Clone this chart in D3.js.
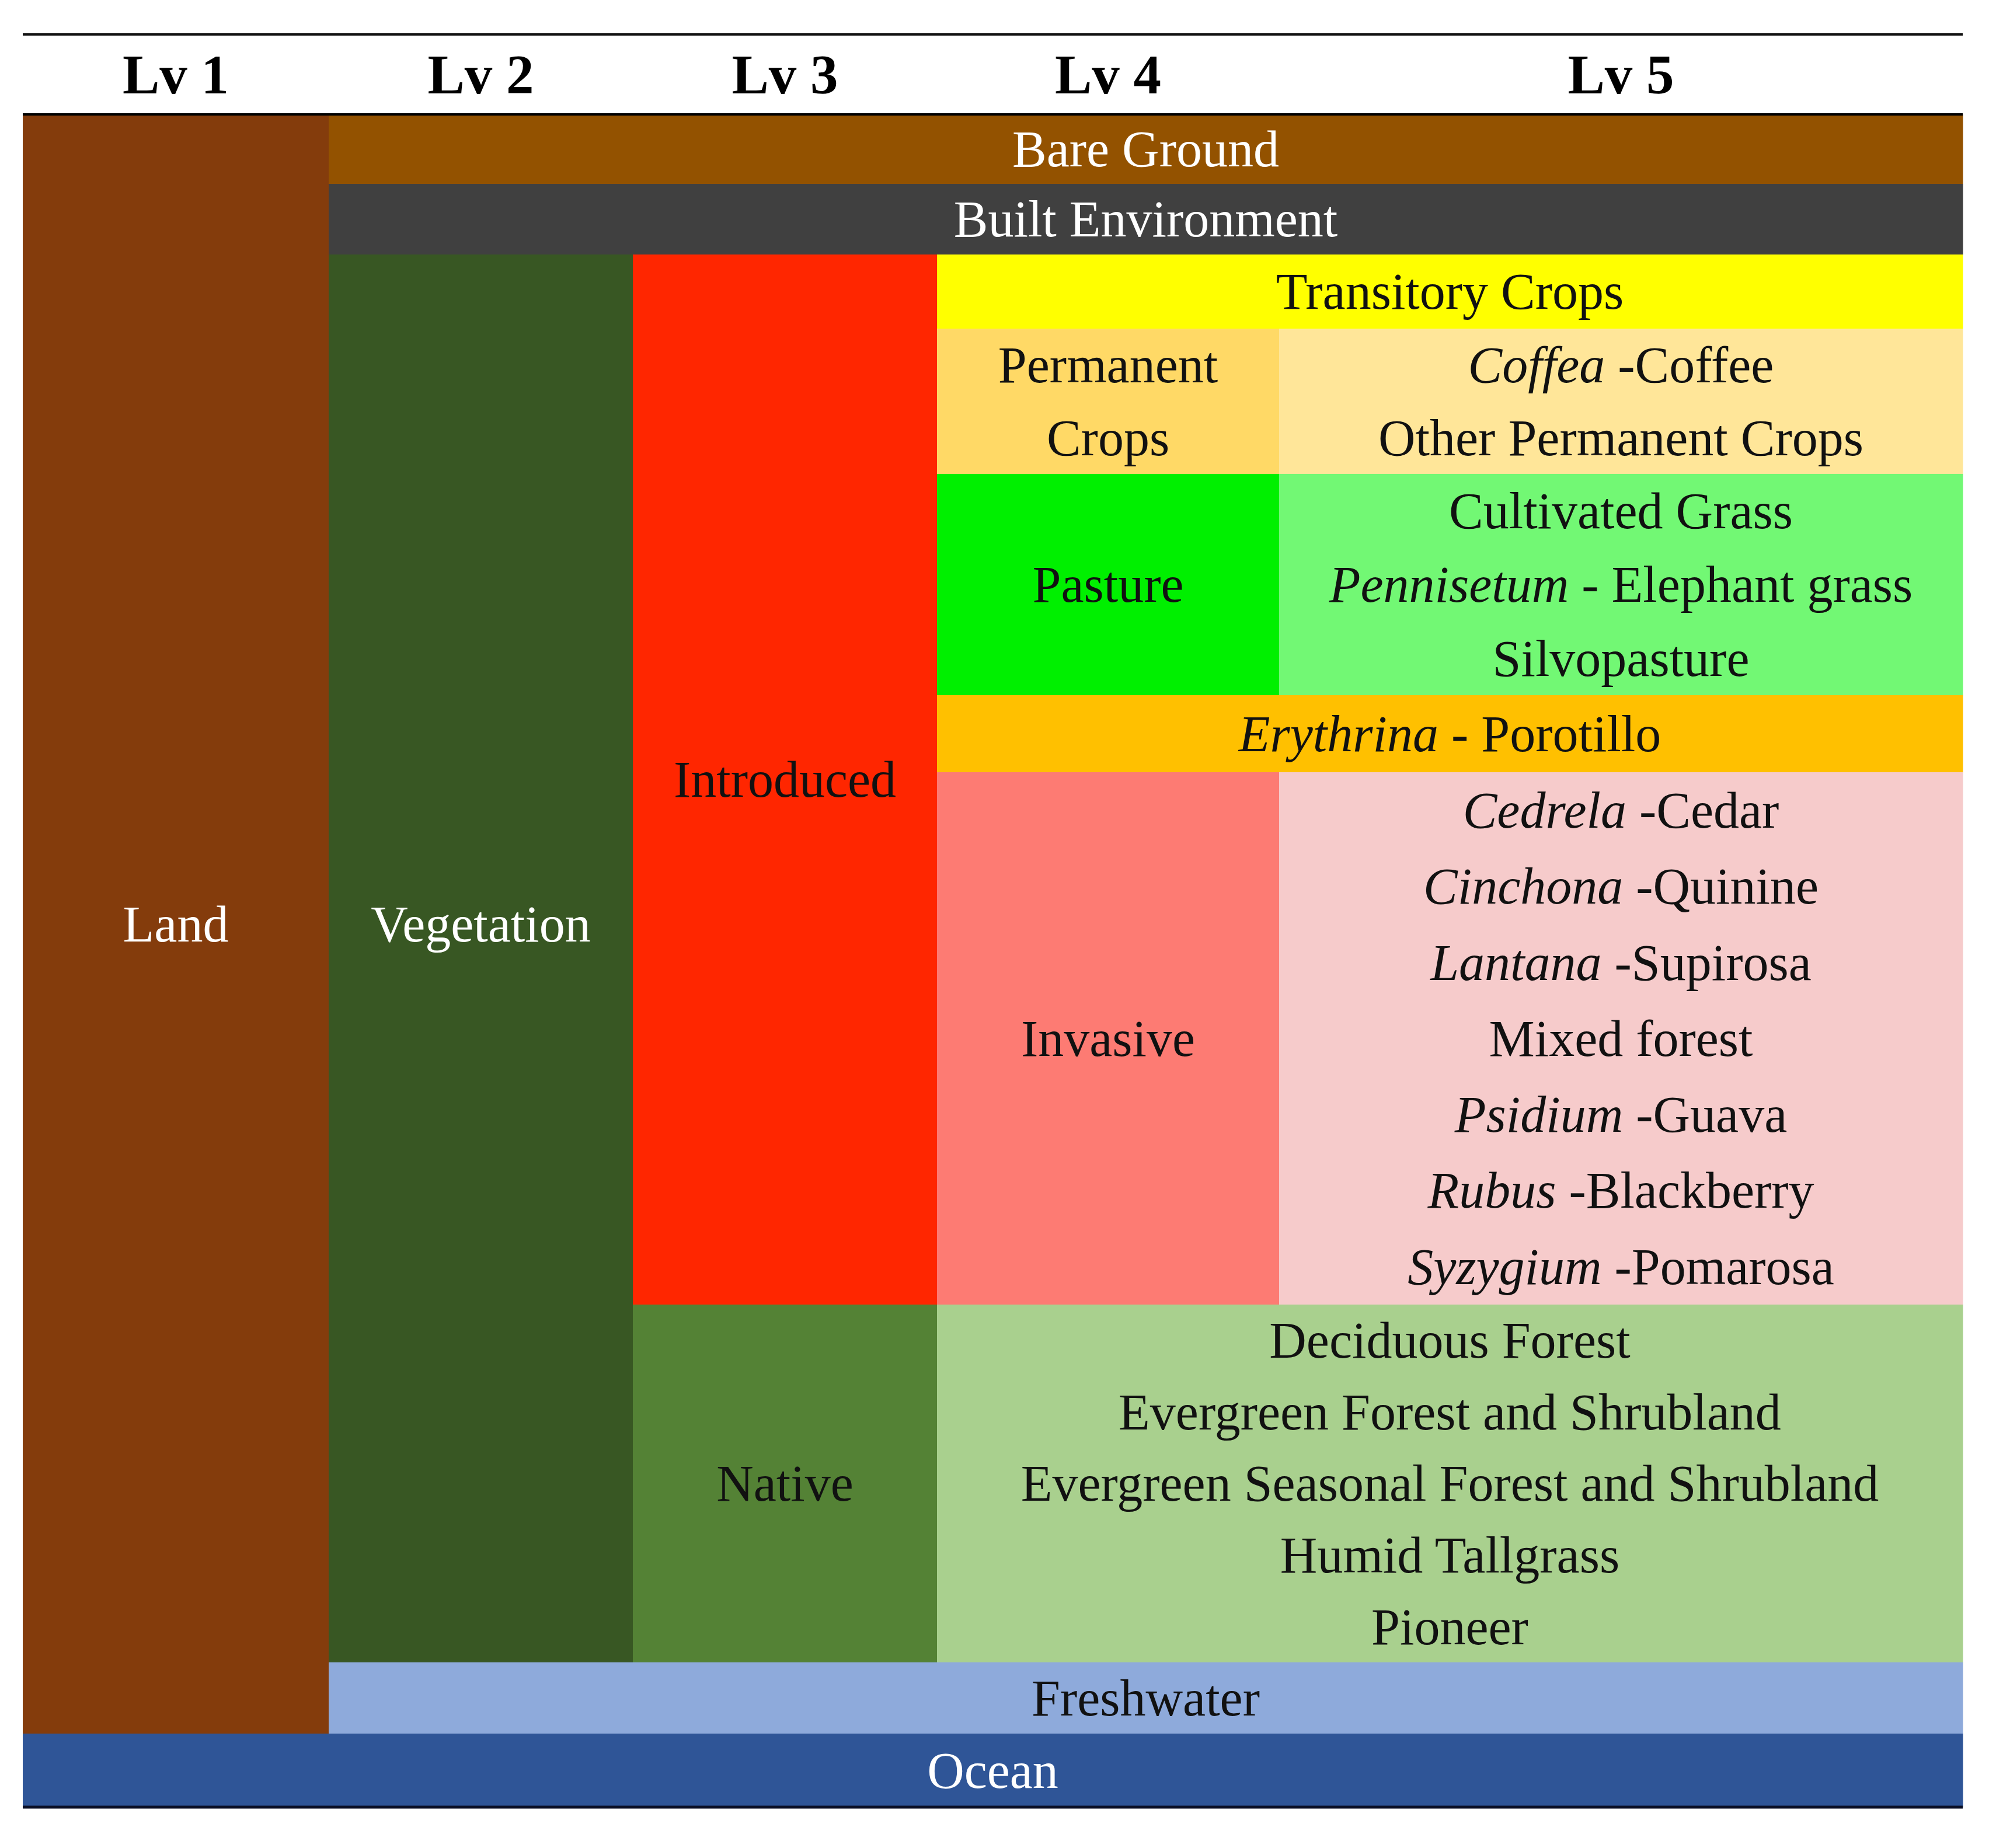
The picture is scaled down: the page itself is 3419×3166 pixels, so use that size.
<!DOCTYPE html>
<html>
<head>
<meta charset="utf-8">
<script src="https://cdn.jsdelivr.net/npm/d3@7"></script>
<style>
  body { margin: 0; background: #fff; }
</style>
</head>
<body>
<div class="chart-div"></div>
<script>
//--------------------------- Data

// column headers
var levels = ["Lv 1", "Lv 2", "Lv 3", "Lv 4", "Lv 5"];

// one entry per cell; text between underscores is italic, lines split by "|"
var cellLabels = [
    "Land",
    "Bare Ground",
    "Built Environment",
    "Vegetation",
    "Introduced",
    "Transitory Crops",
    "Permanent|Crops",
    "_Coffea_ -Coffee|Other Permanent Crops",
    "Pasture",
    "Cultivated Grass|_Pennisetum_  - Elephant grass|Silvopasture",
    "_Erythrina_  - Porotillo",
    "Invasive",
    "_Cedrela_ -Cedar|_Cinchona_ -Quinine|_Lantana_ -Supirosa|Mixed forest|_Psidium_ -Guava|_Rubus_ -Blackberry|_Syzygium_ -Pomarosa",
    "Native",
    "Deciduous Forest|Evergreen Forest and Shrubland|Evergreen Seasonal Forest and Shrubland|Humid Tallgrass|Pioneer",
    "Freshwater",
    "Ocean"
];

// first and last level column each cell covers (0 = Lv 1)
var cellCols = [
    [0, 0], [1, 4], [1, 4], [1, 1], [2, 2], [3, 4], [3, 3], [4, 4],
    [3, 3], [4, 4], [3, 4], [3, 3], [4, 4], [2, 2], [3, 4], [1, 4], [0, 4]
];

// first row and number of rows each cell covers
var cellRows = [
    [0, 22], [0, 1], [1, 1], [2, 19], [2, 14], [2, 1], [3, 2], [3, 2],
    [5, 3], [5, 3], [8, 1], [9, 7], [9, 7], [16, 5], [16, 5], [21, 1], [22, 1]
];

var cellColors = [
    "#843c0c", "#935200", "#404040", "#385723", "#ff2600", "#ffff00", "#ffd966", "#ffe699",
    "#00f000", "#72f874", "#ffc000", "#fd7b73", "#f6cbcb", "#548235", "#a9d08e", "#8eaadb", "#2f5597"
];

// Vegetation label sits level with the Land label (row 11)
var labelCenterRow = { "Vegetation": 11 };

// row indices where a block of rows starts (used by the piecewise row scale)
var rowBreaks = [0, 1, 2, 3, 5, 8, 9, 16, 21, 22, 23];

//--------------------------- SVG definition

var width = 3419;
var height = 3166;

var svg = d3.select("div.chart-div")
    .append("svg")
    .attr("width", width)
    .attr("height", height);

var cells = svg.append("g");
var labels = svg.append("g");
var header = svg.append("g");
var rules = svg.append("g");

//--------------------------- Scales

var x = d3.scaleLinear()
    .domain([0, 1, 2, 3, 4, 5])
    .range([39, 563, 1084, 1605, 2191, 3362]);

var y = d3.scaleLinear()
    .domain(rowBreaks)
    .range([196, 315, 436, 563, 812, 1191, 1323, 2235, 2848, 2970, 3096]);

var nRows = rowBreaks[rowBreaks.length - 1];

var bodyFont = "Liberation Serif, Times New Roman, serif";
var bodySize = 88;

var data = cellLabels.map(function (l, i) {
    return {
        lines: l.split("|"),
        c0: cellCols[i][0],
        c1: cellCols[i][1] + 1,
        r0: cellRows[i][0],
        r1: cellRows[i][0] + cellRows[i][1],
        fill: cellColors[i],
        name: l.split("|")[0]
    };
});

//--------------------------- Cells

cells.selectAll("rect").data(data).enter()
    .append("rect")
    .attr("x", function (d) { return x(d.c0); })
    .attr("y", function (d) { return y(d.r0); })
    .attr("width", function (d) { return x(d.c1) - x(d.c0) + 0.5; })
    .attr("height", function (d) { return y(d.r1) - y(d.r0) + 0.5; })
    .attr("fill", function (d) { return d.fill; });

//--------------------------- Labels

data.forEach(function (d) {
    var n = d.lines.length;
    var top = y(d.r0), bottom = y(d.r1);
    var textColor = d3.lab(d.fill).l < 46 ? "#fff" : "#111";
    d.lines.forEach(function (line, k) {
        var ty;
        if (labelCenterRow[d.name] !== undefined) ty = y(labelCenterRow[d.name]);
        else ty = top + (k + 0.5) * (bottom - top) / n;

        var t = labels.append("text")
            .attr("x", (x(d.c0) + x(d.c1)) / 2)
            .attr("y", ty)
            .attr("dy", "0.34em")
            .attr("text-anchor", "middle")
            .attr("font-family", bodyFont)
            .attr("font-size", bodySize)
            .style("fill", textColor);

        line.split("_").forEach(function (part, j) {
            if (part === "") return;
            t.append("tspan")
                .attr("font-style", j % 2 == 1 ? "italic" : "normal")
                .text(part);
        });
    });
});

//--------------------------- Header

header.selectAll("text").data(levels).enter()
    .append("text")
    .attr("x", function (d, i) { return (x(i) + x(i + 1)) / 2; })
    .attr("y", 128)
    .attr("dy", "0.34em")
    .attr("text-anchor", "middle")
    .attr("font-family", "Liberation Serif, Times New Roman, serif")
    .attr("font-weight", "bold")
    .attr("font-size", 95)
    .style("fill", "#000")
    .text(function (d) { return d; });

//--------------------------- Rules

rules.append("line")
    .attr("x1", x(0)).attr("x2", x(5))
    .attr("y1", 59).attr("y2", 59)
    .attr("stroke", "#111").attr("stroke-width", 4);

rules.append("line")
    .attr("x1", x(0)).attr("x2", x(5))
    .attr("y1", y(0)).attr("y2", y(0))
    .attr("stroke", "#000").attr("stroke-width", 4);

rules.append("line")
    .attr("x1", x(0)).attr("x2", x(5))
    .attr("y1", y(nRows)).attr("y2", y(nRows))
    .attr("stroke", "#0a0f26").attr("stroke-width", 5);
</script>
</body>
</html>
